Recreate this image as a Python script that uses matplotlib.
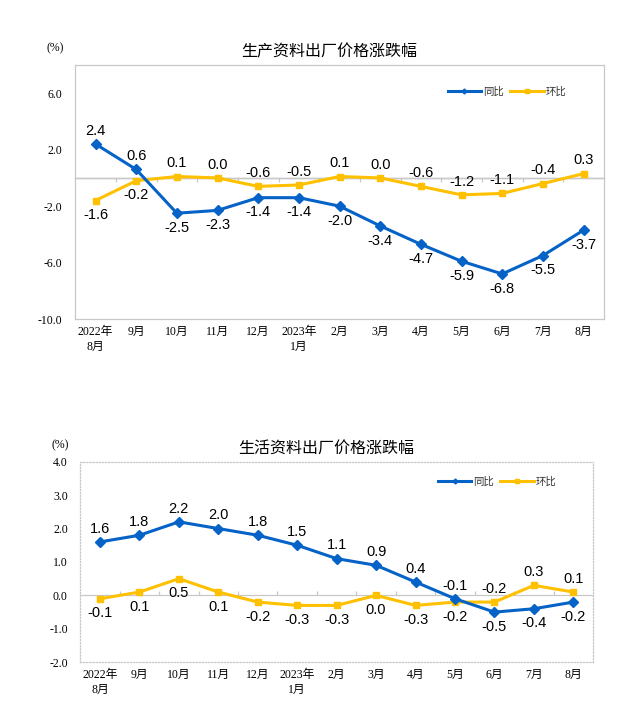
import matplotlib
matplotlib.use('Agg')
import matplotlib.pyplot as plt
import numpy as np

plt.rcParams['font.family'] = ['Liberation Sans', 'Noto Sans CJK SC']

months = ['2022年\n8月', '9月', '10月', '11月', '12月', '2023年\n1月', '2月',
          '3月', '4月', '5月', '6月', '7月', '8月']

# 生产资料
prod_yoy = [2.4, 0.6, -2.5, -2.3, -1.4, -1.4, -2.0, -3.4, -4.7, -5.9, -6.8, -5.5, -3.7]
prod_mom = [-1.6, -0.2, 0.1, 0.0, -0.6, -0.5, 0.1, 0.0, -0.6, -1.2, -1.1, -0.4, 0.3]
prod_yoy_up = [1, 1, 0, 0, 0, 0, 0, 0, 0, 0, 0, 0, 0]
prod_mom_up = [0, 0, 1, 1, 1, 1, 1, 1, 1, 1, 1, 1, 1]

# 生活资料
life_yoy = [1.6, 1.8, 2.2, 2.0, 1.8, 1.5, 1.1, 0.9, 0.4, -0.1, -0.5, -0.4, -0.2]
life_mom = [-0.1, 0.1, 0.5, 0.1, -0.2, -0.3, -0.3, 0.0, -0.3, -0.2, -0.2, 0.3, 0.1]
life_yoy_up = [1, 1, 1, 1, 1, 1, 1, 1, 1, 1, 0, 0, 0]
life_mom_up = [0, 0, 0, 0, 0, 0, 0, 0, 0, 0, 1, 1, 1]

BLUE = '#0563C8'
YELLOW = '#FFC000'
SERIF = ['Liberation Serif', 'Noto Sans CJK SC']

fig = plt.figure(figsize=(6.37, 7.06), dpi=100)


def draw_panel(rect, title, yoy, mom, yoy_up, mom_up, ylim, yticks, dotted, leg_pos):
    ax = fig.add_axes(rect)
    x = np.arange(len(months))
    ax.plot(x, yoy, color=BLUE, lw=2.2, marker='D', ms=5, label='同比', zorder=4)
    ax.plot(x, mom, color=YELLOW, lw=2.2, marker='s', ms=5, label='环比', zorder=3)

    for xs, vals, ups in ((x, yoy, yoy_up), (x, mom, mom_up)):
        for xi, v, up in zip(xs, vals, ups):
            ax.annotate(f'{v:.1f}', (xi, v), xytext=(0, 9.5 if up else -10.5),
                        textcoords='offset points', ha='center', va='center',
                        fontsize=10.5, color='black')

    ax.set_xlim(-0.5, len(months) - 0.5)
    ax.set_ylim(*ylim)
    ax.set_yticks(yticks)
    ax.set_yticklabels([f'{t:.1f}' for t in yticks], family=SERIF, fontsize=8.5)
    ax.set_xticks(x)
    ax.set_xticklabels(months, family=SERIF, fontsize=8.5, linespacing=1.3)
    ax.tick_params(axis='x', length=0, pad=5)
    ax.tick_params(axis='y', length=0, pad=9)

    for s in ax.spines.values():
        s.set_color('#C8C8C8')
        s.set_linewidth(0.9)
        if dotted:
            s.set_linestyle((0, (1, 1.5)))

    # zero line with small boundary ticks
    ax.axhline(0, color='#C8C8C8', lw=0.9, zorder=1)
    frac = (0 - ylim[0]) / (ylim[1] - ylim[0])
    sec = ax.secondary_xaxis(frac)
    sec.set_xticks(np.arange(len(months) - 1) + 0.5)
    sec.set_xticklabels([])
    sec.tick_params(direction='in', length=3, color='#C8C8C8', width=0.9)
    sec.spines['bottom'].set_visible(False)

    leg = ax.legend(loc='center', bbox_to_anchor=leg_pos, ncol=2, frameon=False,
                    fontsize=7.5, handlelength=3.2, columnspacing=0.6,
                    handletextpad=0.2, markerscale=0.5)
    for t in leg.get_texts():
        t.set_color('#333333')

    fig.text(rect[0] + rect[2] / 2 - 0.017, rect[1] + rect[3] + 0.019, title,
             ha='center', va='center', fontsize=11.5, family=['Noto Sans CJK SC'])
    fig.text(rect[0] - 0.032, rect[1] + rect[3] + 0.023, '(%)', ha='center', va='center',
             fontsize=8.5, family=SERIF)
    return ax


draw_panel([0.118, 0.548, 0.830, 0.360], '生产资料出厂价格涨跌幅',
           prod_yoy, prod_mom, prod_yoy_up, prod_mom_up,
           (-10, 8), [-10, -6, -2, 2, 6], False, (0.817, 0.894))

draw_panel([0.126, 0.062, 0.805, 0.284], '生活资料出厂价格涨跌幅',
           life_yoy, life_mom, life_yoy_up, life_mom_up,
           (-2, 4), [-2, -1, 0, 1, 2, 3, 4], True, (0.813, 0.90))

fig.savefig('out.png', dpi=100)
